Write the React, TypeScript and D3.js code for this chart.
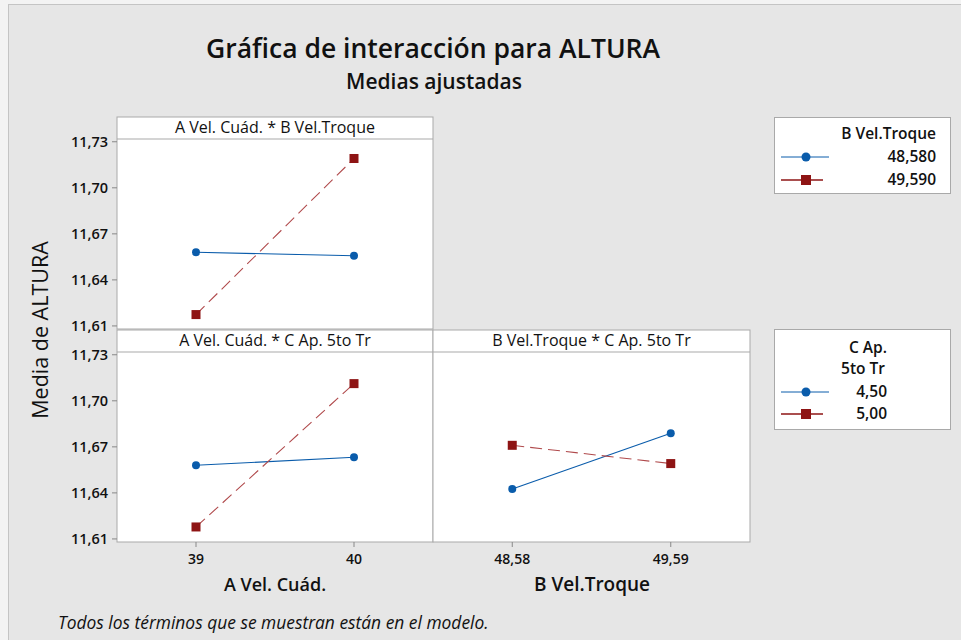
import React from 'react';
import * as d3 from 'd3';

// factor levels
const aLevels = [39, 40];
const bLevels = ['48,58', '49,59'];
const yTicks = [11.61, 11.64, 11.67, 11.70, 11.73];

// fitted means
const abB1 = [11.658, 11.6557];
const abB2 = [11.6174, 11.7191];
const acC1 = [11.658, 11.6632];
const acC2 = [11.6178, 11.7112];
const bcC1 = [11.6426, 11.6788];
const bcC2 = [11.671, 11.6591];

const legendB = ['48,580', '49,590'];
const legendC = ['4,50', '5,00'];

const BLUE = '#0a5cab';
const RED = '#8e1414';
const FONT = '"Open Sans", "Noto Sans", sans-serif';

const es = d3.formatLocale({ decimal: ',', thousands: '.', grouping: [3], currency: ['', '€'] });
const fmt = es.format('.2f');

const left = 117, mid = 433, right = 750;
const strip = 22;

type PanelProps = {
  x0: number; x1: number; top: number; bottom: number;
  title: string; s1: number[]; s2: number[];
  yAxis: boolean; xLabels?: string[];
};

const Panel = ({ x0, x1, top, bottom, title, s1, s2, yAxis, xLabels }: PanelProps) => {
  const plotTop = top + strip;
  const x = d3.scaleLinear().domain([-0.5, 1.5]).range([x0, x1]);
  const y = d3.scaleLinear().domain([11.608, 11.7318]).range([bottom, plotTop]);
  const line = d3.line<number>().x((_, i) => x(i)).y(d => y(d));
  return (
    <g>
      <rect x={x0} y={top} width={x1 - x0} height={bottom - top} fill="#fff" stroke="#a9a9a9" />
      <line x1={x0} x2={x1} y1={plotTop} y2={plotTop} stroke="#a9a9a9" />
      <text x={(x0 + x1) / 2} y={top + 16} textAnchor="middle" fontSize={16} fontWeight={500} fill="#111">{title}</text>
      {yAxis && yTicks.map(t => (
        <g key={t}>
          <line x1={x0 - 5} x2={x0} y1={y(t)} y2={y(t)} stroke="#888" />
          <text x={x0 - 9} y={y(t) + 5} textAnchor="end" fontSize={14.5} fontWeight={600} fill="#111">{fmt(t)}</text>
        </g>
      ))}
      {xLabels && xLabels.map((l, i) => (
        <g key={l}>
          <line x1={x(i)} x2={x(i)} y1={bottom} y2={bottom + 5} stroke="#888" />
          <text x={x(i)} y={bottom + 22} textAnchor="middle" fontSize={14} fontWeight={600} fill="#111">{l}</text>
        </g>
      ))}
      <path d={line(s1) || ''} fill="none" stroke={BLUE} strokeWidth={1.1} />
      <path d={line(s2) || ''} fill="none" stroke="#b04a4c" strokeWidth={1.1} strokeDasharray="12,6" />
      {s1.map((v, i) => <circle key={'c' + i} cx={x(i)} cy={y(v)} r={4} fill={BLUE} />)}
      {s2.map((v, i) => <rect key={'r' + i} x={x(i) - 4.5} y={y(v) - 4.5} width={9} height={9} fill={RED} />)}
    </g>
  );
};

const LegendItem = ({ y, blue, label, lx }: { y: number; blue: boolean; label: string; lx: number }) => (
  <g>
    <line x1={781} x2={blue ? 829 : 823} y1={y} y2={y} stroke={blue ? BLUE : RED} strokeWidth={blue ? 1 : 1.6} />
    {blue
      ? <circle cx={806} cy={y} r={4.5} fill={BLUE} />
      : <rect x={801} y={y - 5} width={10} height={10} fill={RED} />}
    <text x={lx} y={y + 5} textAnchor="end" fontSize={15.5} fontWeight={600} fill="#111">{label}</text>
  </g>
);

export default function App() {
  return (
    <svg width={961} height={640} style={{ position: 'absolute', left: 0, top: 0, fontFamily: FONT }}>
      <rect x={0} y={0} width={961} height={640} fill="#f3f3f3" />
      <rect x={8.5} y={4.5} width={960} height={640} fill="#e6e6e6" stroke="#c4c4c4" />

      <text x={433} y={58} textAnchor="middle" fontSize={26.5} fontWeight={600} fill="#111">Gráfica de interacción para ALTURA</text>
      <text x={434} y={89} textAnchor="middle" fontSize={21} fontWeight={600} fill="#111">Medias ajustadas</text>

      <Panel x0={left} x1={mid} top={117} bottom={329} title="A Vel. Cuád. * B Vel.Troque" s1={abB1} s2={abB2} yAxis />
      <Panel x0={left} x1={mid} top={330} bottom={542} title="A Vel. Cuád. * C Ap. 5to Tr" s1={acC1} s2={acC2} yAxis xLabels={aLevels.map(String)} />
      <Panel x0={mid} x1={right} top={330} bottom={542} title="B Vel.Troque * C Ap. 5to Tr" s1={bcC1} s2={bcC2} yAxis={false} xLabels={bLevels} />

      <text transform="translate(48,330) rotate(-90)" textAnchor="middle" fontSize={21.5} fontWeight={500} fill="#111">Media de ALTURA</text>
      <text x={275} y={591} textAnchor="middle" fontSize={18} fontWeight={600} fill="#111">A Vel. Cuád.</text>
      <text x={592} y={591} textAnchor="middle" fontSize={19} fontWeight={600} fill="#111">B Vel.Troque</text>
      <text x={58} y={629} fontSize={17.4} fontStyle="italic" fill="#111">Todos los términos que se muestran están en el modelo.</text>

      <rect x={774.5} y={117.5} width={176} height={76} fill="#fff" stroke="#a9a9a9" />
      <text x={936} y={139} textAnchor="end" fontSize={15.5} fontWeight={600} fill="#111">B Vel.Troque</text>
      <LegendItem y={157} blue label={legendB[0]} lx={936} />
      <LegendItem y={180} blue={false} label={legendB[1]} lx={936} />

      <rect x={774.5} y={329.5} width={176} height={100} fill="#fff" stroke="#a9a9a9" />
      <text x={868} y={353} textAnchor="middle" fontSize={15.5} fontWeight={600} fill="#111">C Ap.</text>
      <text x={863} y={374} textAnchor="middle" fontSize={15.5} fontWeight={600} fill="#111">5to Tr</text>
      <LegendItem y={392} blue label={legendC[0]} lx={887} />
      <LegendItem y={414} blue={false} label={legendC[1]} lx={887} />
    </svg>
  );
}
